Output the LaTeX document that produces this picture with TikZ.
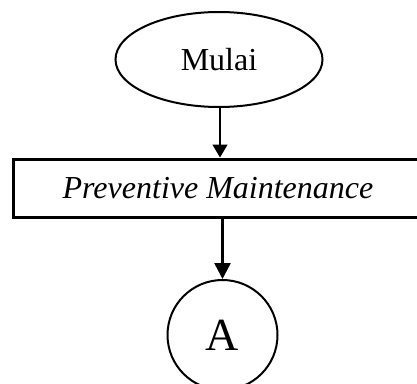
\documentclass[tikz,border=0pt]{standalone}
\usepackage{fontspec}
\setmainfont{Liberation Serif}
\usetikzlibrary{shapes.geometric,arrows.meta}
\begin{document}
\begin{tikzpicture}[x=1pt,y=-1pt,
  terminal/.style={draw,ellipse,line width=2pt,inner sep=0pt,
    minimum width=207pt,minimum height=95pt,
    font=\fontsize{32}{38}\selectfont},
  process/.style={draw,rectangle,line width=3pt,inner sep=0pt,
    minimum width=410pt,minimum height=58pt,
    font=\fontsize{32}{38}\selectfont\itshape},
  connector/.style={draw,circle,line width=2pt,inner sep=0pt,
    minimum size=110pt,font=\fontsize{46}{52}\selectfont},
  thinflow/.style={line width=1.3pt,-{Triangle[length=13pt,width=15pt]}},
  thickflow/.style={line width=2.5pt,-{Triangle[length=16pt,width=16pt]}}]
  \clip (0,0) rectangle (417,383);
  \node[terminal] (start) at (219,59.5) {Mulai};
  \node[process] (pm) at (218,188) {Preventive Maintenance};
  \node[connector] (conA) at (222.5,335) {A};
  \draw[thinflow] ([xshift=1pt]start.south) -- ([xshift=1pt]start.south |- pm.north);
  \draw[thickflow] (conA.north |- pm.south) -- (conA.north);
\end{tikzpicture}
\end{document}
